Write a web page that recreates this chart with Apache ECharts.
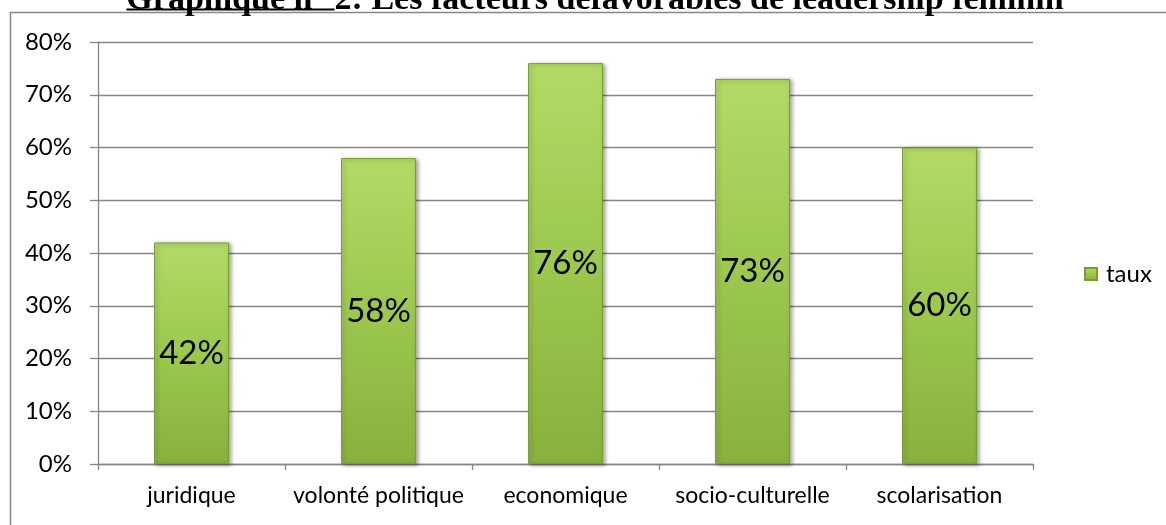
<!DOCTYPE html>
<html>
<head>
<meta charset="utf-8">
<script src="https://cdn.jsdelivr.net/npm/echarts@6/dist/echarts.min.js"></script>
<style>
  html, body { margin: 0; padding: 0; background: #fff; }
  #chart { width: 1166px; height: 525px; }
</style>
</head>
<body>
<div id="chart"></div>
<script>
// données
const categories = ["juridique", "volonté politique", "economique", "socio-culturelle", "scolarisation"];
const taux = [42, 58, 76, 73, 60];
const seriesName = "taux";
const titleUnderlined = "Graphique n° ";
const titleRest = "2: Les facteurs défavorables de leadership féminin";

const font = "Lato, 'Open Sans', sans-serif";
const gray = "#868686";

// mesure du titre pour placer le soulignement
const titleFont = "bold 34px 'Liberation Serif', serif";
const ctx = document.createElement("canvas").getContext("2d");
ctx.font = titleFont;
const wU = ctx.measureText(titleUnderlined).width;
const wAll = ctx.measureText(titleUnderlined + titleRest).width;
const titleLeft = 595 - wAll / 2;

const chart = echarts.init(document.getElementById("chart"));

const barColor = {
  type: "linear", x: 0, y: 0, x2: 0, y2: 1,
  colorStops: [
    { offset: 0, color: "#b3da66" },
    { offset: 0.5, color: "#9cc84e" },
    { offset: 1, color: "#88b13e" },
  ],
};

chart.setOption({
  animation: false,
  graphic: [
    {
      type: "rect",
      shape: { x: 10.5, y: 12.5, width: 1300, height: 700 },
      style: { fill: "none", stroke: gray, lineWidth: 1.5 },
      silent: true,
    },
    {
      type: "text",
      x: titleLeft,
      y: 17,
      style: {
        text: titleUnderlined + titleRest,
        font: titleFont,
        fill: "#000",
        textAlign: "left",
        textVerticalAlign: "bottom",
      },
    },
    {
      type: "line",
      shape: { x1: titleLeft, y1: 9.5, x2: titleLeft + wU, y2: 9.5 },
      style: { stroke: "#000", lineWidth: 2 },
    },
  ],
  grid: { left: 98, right: 133, top: 42, bottom: 61, containLabel: false },
  legend: {
    data: [seriesName],
    orient: "vertical",
    left: 1079,
    top: 257,
    itemWidth: 12,
    itemHeight: 12,
    icon: "rect",
    textStyle: { fontFamily: font, fontSize: 24, color: "#000", padding: [0, 0, 0, 4] },
  },
  xAxis: {
    type: "category",
    data: categories,
    axisLine: { lineStyle: { color: gray, width: 1.3 } },
    axisTick: { show: true, length: 6, lineStyle: { color: gray, width: 1.3 } },
    axisLabel: { fontFamily: font, fontSize: 23, color: "#000", margin: 20, interval: 0, hideOverlap: false },
  },
  yAxis: {
    type: "value",
    min: 0,
    max: 80,
    interval: 10,
    axisLine: { show: true, lineStyle: { color: gray, width: 1.3 } },
    axisTick: { show: true, length: 8, lineStyle: { color: gray, width: 1.3 } },
    axisLabel: { fontFamily: font, fontSize: 24, color: "#000", margin: 26, formatter: "{value}%" },
    splitLine: { lineStyle: { color: gray, width: 1.3 } },
  },
  series: [
    {
      name: seriesName,
      type: "bar",
      data: taux,
      barWidth: 75,
      itemStyle: {
        color: barColor,
        borderColor: "#7a9e36",
        borderWidth: 1,
        shadowColor: "rgba(0,0,0,0.35)",
        shadowBlur: 4,
        shadowOffsetX: 2,
        shadowOffsetY: 1,
      },
      label: {
        show: true,
        position: "inside",
        formatter: "{c}%",
        fontFamily: font,
        fontSize: 33,
        color: "#000",
      },
    },
  ],
});
</script>
</body>
</html>
